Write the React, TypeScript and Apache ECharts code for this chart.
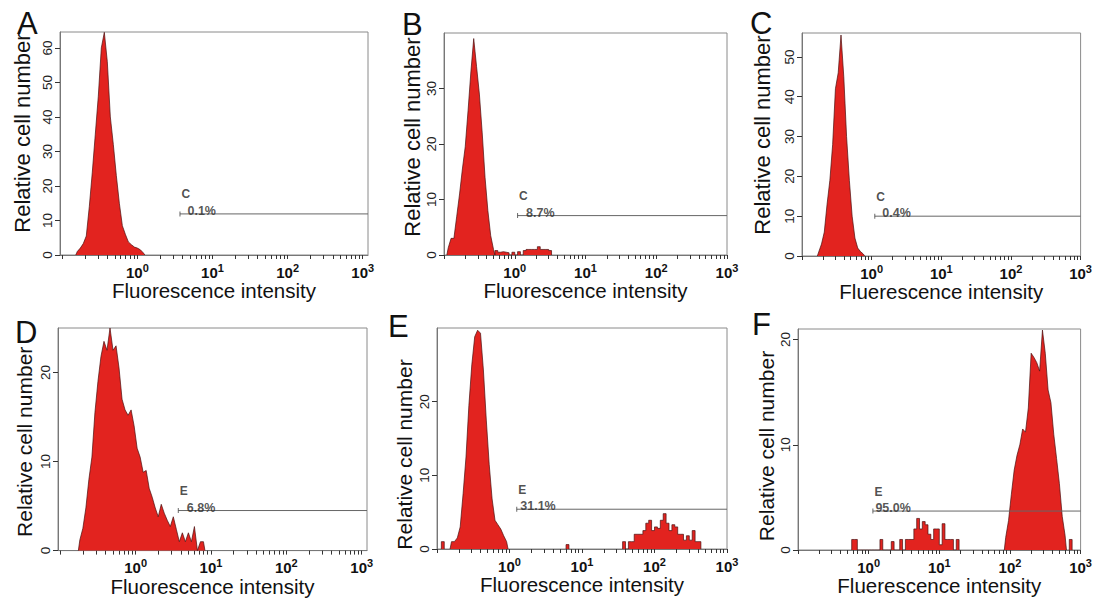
import React, { useEffect, useRef } from 'react';
import * as echarts from 'echarts';

// ---------------- data ----------------
const BIN_W = 0.04; // histogram bin width in log10 units
const X_DECADES = [0, 1, 2, 3];
const PANEL_LETTERS = ['A', 'B', 'C', 'D', 'E', 'F'];
const X_TITLES = [
  'Fluorescence intensity',
  'Fluorescence intensity',
  'Fluerescence intensity',
  'Fluorescence intensity',
  'Fluorescence intensity',
  'Fluerescence intensity',
];
const Y_TITLE = 'Relative cell number';
const X_MIN = [-1.03, -1, -1, -1.03, -1, -1];
const X_MAX = [3.07, 3, 3, 3.07, 3, 3];
const Y_MAX = [64.6, 40, 56, 25, 30, 21];
const Y_TICKS_A = [0, 10, 20, 30, 40, 50, 60];
const Y_TICKS_B = [0, 10, 20, 30];
const Y_TICKS_C = [0, 10, 20, 30, 40, 50];
const Y_TICKS_D = [0, 10, 20];
const Y_TICKS_E = [0, 10, 20];
const Y_TICKS_F = [0, 10, 20];

const GATE_NAMES = ['C', 'C', 'C', 'E', 'E', 'E'];
const GATE_PCTS = ['0.1%', '8.7%', '0.4%', '6.8%', '31.1%', '95.0%'];
const GATE_X = [0.567, 0.04, 0.045, 0.566, 0.1, 0.06];
const GATE_Y = [11.9, 7.1, 10, 4.5, 5.4, 3.7];

// histogram counts per log10 bin (bin width BIN_W), each block starting at *_START
const A_START = -0.82;
const A_COUNTS = [1.0, 2.0, 3.3, 5.5, 14, 24, 35, 46, 60, 64.5, 56, 40, 32, 23, 15, 8.5, 6, 3.8, 3, 2.3, 2, 1.5, 0.6];

const B_PEAK_START = -0.96;
const B_PEAK = [1.3, 3, 3, 7, 11, 15.5, 19.5, 26, 33, 39, 34, 29, 22, 14, 8, 3.5, 1];
const B_TAIL_START = -0.28;
const B_TAIL = [0.8, 0.5, 0.6, 0.5, 0.4, 0, 0.5, 0, 0.6, 0, 0.8, 1, 1, 1, 1, 1.5, 1, 1, 1, 0.8];

const C_START = -0.78;
const C_COUNTS = [1, 3, 6, 13, 19, 28, 42, 46, 55.5, 45, 30, 19, 10, 4.5, 2, 1.1, 0.5];

const D_START = -0.76;
const D_COUNTS = [1.2, 2.5, 4.8, 8, 10.5, 15.5, 19, 21.8, 23.5, 22.5, 25, 22.5, 23, 20.5, 17, 15.8, 15.2, 15.8, 14, 11.5, 10.5, 8.8, 9, 7, 6, 4.8, 3.8, 5.2, 4.2, 3.4, 2.7, 3.8, 2.4, 1, 2, 1, 2, 1, 2.7, 0, 1, 1];

const E_BLIP_START = -0.94;
const E_BLIP = [1];
const E_LOW_START = -0.82;
const E_LOW = [1, 1, 1.5, 3, 7.5, 12.5, 19.5, 25, 28.8, 29.7, 29.3, 24.3, 17.5, 11.5, 6.8, 3.9, 3.3, 2.7, 1.8, 1];
const E_MID_START = 0.78;
const E_MID = [0.6];
const E_HIGH_START = 1.56;
const E_HIGH = [1, 0, 1, 1, 2, 2, 2, 2.5, 3.5, 3.9, 2.5, 3, 2.8, 3.9, 4.8, 3.5, 2.5, 3.3, 3, 2, 2, 1.2, 1.8, 1.2, 2.5, 1, 1];

const F_LOW_START = -0.24;
const F_LOW = [1, 1, 0, 0, 0, 0, 0, 0, 0, 0, 1, 0, 0, 0, 0.8, 0, 0, 1, 0, 1, 1, 1, 2, 3, 2, 2.7, 2.4, 1.5, 1, 2, 2, 0.5, 2.5, 1, 1, 1, 0, 1];
const F_HIGH_START = 1.92;
const F_HIGH = [1.2, 2.8, 5.3, 7.6, 9, 10, 11.5, 11.2, 13.5, 18.7, 18.3, 17.8, 17, 20.9, 18.7, 15.2, 14, 11, 8.7, 6.3, 3.2, 1.4];
const F_END_START = 2.84;
const F_END = [1];

type Seg = { start: number; counts: number[]; step: boolean };
const PANEL_SEGMENTS: Seg[][] = [
  [{ start: A_START, counts: A_COUNTS, step: false }],
  [
    { start: B_PEAK_START, counts: B_PEAK, step: false },
    { start: B_TAIL_START, counts: B_TAIL, step: true },
  ],
  [{ start: C_START, counts: C_COUNTS, step: false }],
  [{ start: D_START, counts: D_COUNTS, step: false }],
  [
    { start: E_BLIP_START, counts: E_BLIP, step: true },
    { start: E_LOW_START, counts: E_LOW, step: false },
    { start: E_MID_START, counts: E_MID, step: true },
    { start: E_HIGH_START, counts: E_HIGH, step: true },
  ],
  [
    { start: F_LOW_START, counts: F_LOW, step: true },
    { start: F_HIGH_START, counts: F_HIGH, step: false },
    { start: F_END_START, counts: F_END, step: true },
  ],
];
const Y_TICKS = [Y_TICKS_A, Y_TICKS_B, Y_TICKS_C, Y_TICKS_D, Y_TICKS_E, Y_TICKS_F];

// ---------------- layout ----------------
const GRIDS = [
  { left: 60, top: 32, width: 308, height: 223 },
  { left: 444, top: 33, width: 283, height: 222 },
  { left: 802, top: 33, width: 286, height: 223 },
  { left: 58, top: 328, width: 309, height: 223 },
  { left: 437, top: 328, width: 290, height: 221 },
  { left: 798, top: 329, width: 291, height: 221 },
];
const Y_NAME_GAP = [37.5, 29, 40, 34, 33, 29];
const Y_NAME_PAD = [
  [0, 0, 0, 21],
  [0, 0, 0, 14],
  [0, 0, 0, 19],
  [0, 5, 0, 0],
  [0, 32, 0, 0],
  [0, 13, 0, 0],
];
const LETTER_POS = [
  [17, 23.5],
  [402, 24],
  [750, 23.5],
  [15, 332],
  [388, 326.5],
  [752, 324],
];
const PCT_INDENT = [6, 7, 6, 7, 2, 1];
const FONT = "'Liberation Sans', Arial, sans-serif";
const RED = '#e2231f';

function stepPoints(seg: Seg) {
  const pts: number[][] = [[seg.start, 0]];
  seg.counts.forEach((c, i) => pts.push([seg.start + i * BIN_W, c]));
  pts.push([seg.start + seg.counts.length * BIN_W, 0]);
  return pts;
}
function polyPoints(seg: Seg) {
  const pts: number[][] = [[seg.start, 0]];
  seg.counts.forEach((c, i) => pts.push([seg.start + (i + 0.5) * BIN_W, c]));
  pts.push([seg.start + seg.counts.length * BIN_W, 0]);
  return pts;
}

function minorTicks(min: number, max: number) {
  const out: number[] = [];
  for (let d = -2; d <= 3; d++) {
    for (let m = 1; m <= 9; m++) {
      const v = d + Math.log10(m);
      if (v >= min - 1e-9 && v <= max + 1e-9) out.push(v);
    }
  }
  return out;
}

export default function App() {
  const ref = useRef<HTMLDivElement>(null);
  useEffect(() => {
    if (!ref.current) return;
    const chart = echarts.init(ref.current, null, { renderer: 'svg' });
    const grid: any[] = [];
    const xAxis: any[] = [];
    const yAxis: any[] = [];
    const series: any[] = [];
    const graphic: any[] = [];
    for (let i = 0; i < 6; i++) {
      grid.push({ ...GRIDS[i], show: true, borderColor: '#8a8a8a', borderWidth: 1, containLabel: false });
      xAxis.push({
        gridIndex: i,
        type: 'value',
        min: X_MIN[i],
        max: X_MAX[i],
        axisLine: { show: true, onZero: false, lineStyle: { color: '#777', width: 1 } },
        axisTick: { show: true, customValues: minorTicks(X_MIN[i], X_MAX[i]), length: 4, lineStyle: { color: '#333' } },
        axisLabel: {
          customValues: X_DECADES,
          margin: 7,
          formatter: (v: number) => `{b|10}{s|${Math.round(v)}}`,
          rich: {
            b: { fontSize: 15, fontWeight: 'bold', color: '#111', fontFamily: FONT },
            s: { fontSize: 11, fontWeight: 'bold', color: '#111', fontFamily: FONT, padding: [0, 0, 9, 0] },
          },
        },
        splitLine: { show: false },
        name: X_TITLES[i],
        nameLocation: 'middle',
        nameGap: 32,
        nameTextStyle: { fontSize: 20.5, color: '#111', fontFamily: FONT, verticalAlign: 'middle' },
      });
      yAxis.push({
        gridIndex: i,
        type: 'value',
        min: 0,
        max: Y_MAX[i],
        axisLine: { show: true, onZero: false, lineStyle: { color: '#777', width: 1 } },
        axisTick: { show: true, customValues: Y_TICKS[i], length: 5, lineStyle: { color: '#333' } },
        axisLabel: { customValues: Y_TICKS[i], rotate: 90, fontSize: 13.5, color: '#222', fontFamily: FONT, margin: 6 },
        splitLine: { show: false },
        name: Y_TITLE,
        nameLocation: 'middle',
        nameRotate: 90,
        nameGap: Y_NAME_GAP[i],
        nameTextStyle: { fontSize: i < 3 ? 22 : 21, color: '#111', fontFamily: FONT, verticalAlign: 'middle', padding: Y_NAME_PAD[i] },
      });
      PANEL_SEGMENTS[i].forEach((seg) => {
        series.push({
          type: 'line',
          xAxisIndex: i,
          yAxisIndex: i,
          data: seg.step ? stepPoints(seg) : polyPoints(seg),
          step: seg.step ? 'end' : false,
          symbol: 'none',
          silent: true,
          lineStyle: { color: '#4a1010', width: 0.7 },
          areaStyle: { color: RED, opacity: 1 },
          z: 2,
        });
      });
      series.push({
        type: 'line',
        xAxisIndex: i,
        yAxisIndex: i,
        data: [[GATE_X[i], GATE_Y[i]], [X_MAX[i], GATE_Y[i]]],
        symbol: 'none',
        silent: true,
        lineStyle: { color: '#666', width: 1 },
        z: 3,
      });
      series.push({
        type: 'scatter',
        xAxisIndex: i,
        yAxisIndex: i,
        data: [[GATE_X[i], GATE_Y[i]]],
        symbol: 'rect',
        symbolSize: [1, 5],
        silent: true,
        itemStyle: { color: '#444' },
        z: 4,
        label: {
          show: true,
          position: [2, 3.5],
          align: 'left',
          verticalAlign: 'bottom',
          formatter: `{g|${GATE_NAMES[i]}}\n{p|${GATE_PCTS[i]}}`,
          rich: {
            g: { fontSize: 12, fontWeight: 'bold', color: '#222', fontFamily: FONT, lineHeight: 25 },
            p: { fontSize: 12.5, fontWeight: 'bold', color: '#2a2a2a', fontFamily: FONT, lineHeight: 8, padding: [0, 0, 0, PCT_INDENT[i]] },
          },
        },
      });
      graphic.push({
        type: 'text',
        x: LETTER_POS[i][0],
        y: LETTER_POS[i][1],
        style: { text: PANEL_LETTERS[i], fontSize: 31, fontFamily: FONT, fill: '#111', verticalAlign: 'middle', align: 'left' },
      });
    }
    chart.setOption({
      animation: false,
      backgroundColor: '#ffffff',
      grid,
      xAxis,
      yAxis,
      series,
      graphic,
    });
    return () => chart.dispose();
  }, []);
  return <div ref={ref} style={{ position: 'absolute', left: 0, top: 0, width: 1095, height: 598 }} />;
}
